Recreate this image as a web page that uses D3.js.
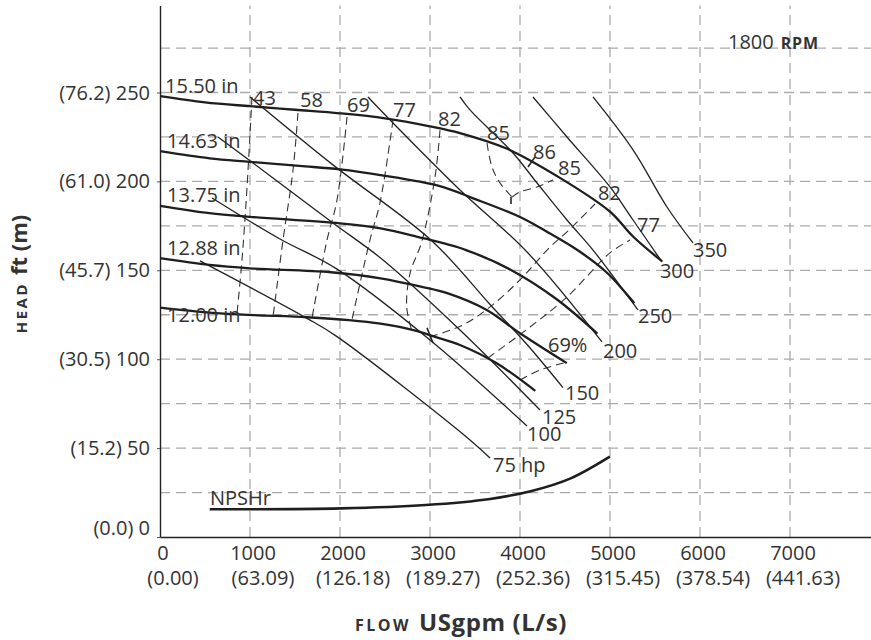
<!DOCTYPE html>
<html><head><meta charset="utf-8">
<script src="https://cdn.jsdelivr.net/npm/d3@7"></script>
<style>
body{margin:0;background:#fff}
svg{display:block}
text{font-family:'Open Sans',sans-serif;fill:#333}
</style>
</head><body>
<svg id="c" width="871" height="640"></svg>
<script>
// ---------- data ----------
const flowTicks = [0,1000,2000,3000,4000,5000,6000,7000];
const flowLps = ["(0.00)","(63.09)","(126.18)","(189.27)","(252.36)","(315.45)","(378.54)","(441.63)"];
const headTicks = [0,50,100,150,200,250];
const headM = ["(0.0)","(15.2)","(30.5)","(45.7)","(61.0)","(76.2)"];
const headGrid = [25,50,75,100,125,150,175,200,225,250,275];
const flowGrid = [1000,2000,3000,4000,5000,6000,7000];

// impeller head curves [gpm, ft]
const imp1550 = [[0,248],[500,244.5],[1000,242.3],[1500,240.3],[2000,238.3],[2500,235.5],[3000,231],[3333,227.2],[3850,218.5],[4444,202],[5000,183],[5256,169],[5580,155]];
const imp1463 = [[0,217],[550,213],[1000,211],[1550,208.7],[2000,206.8],[2450,203.6],[3100,197.5],[3480,190.5],[4000,180],[4300,171.7],[4650,161],[4970,148.5],[5220,134.5],[5270,131.5]];
const imp1375 = [[0,186.3],[550,182.2],[1000,180.1],[2000,176.4],[2450,173.6],[2850,169],[3400,161.4],[3900,150.2],[4400,134],[4860,114.4]];
const imp1288 = [[0,156.8],[550,153],[1000,151.1],[1900,148.9],[2450,145.5],[2900,140.8],[3200,137],[3630,127.7],[4000,114.6],[4520,97.8]];
const imp1200 = [[0,129],[550,126.2],[1000,124.9],[1630,123.6],[2100,122],[2450,120],[2815,116.4],[3050,112.7],[3333,108],[3741,97.7],[4170,82.2]];

// power (hp) lines
const hp75  = [[444,155.3],[1633,123],[1967,112.7],[3444,54.6],[3667,44.4]];
const hp100 = [[578,190.7],[1333,167.6],[1963,150.8],[3000,110.8],[4078,62.4]];
const hp125 = [[644,225],[1033,210.4],[1922,176.6],[2478,155.8],[3333,116.4],[4222,71.4]];
const hp150 = [[1000,247.5],[1922,209.3],[3022,166.5],[3667,130.8],[4078,108.3],[4478,84]];
const hp200 = [[2311,247.5],[2556,234.6],[3333,195.2],[4078,160.3],[4911,109.7]];
const hp250 = [[3333,247.5],[3444,240.2],[3922,216],[4189,199.1],[4522,178.3],[4811,161.4],[5311,127.7]];
const hp300 = [[4144,247.5],[4522,225],[5000,196.9],[5256,178.3],[5578,154.7]];
const hp350 = [[4811,247.5],[5256,217.7],[5633,185.6],[5922,165.4]];

// efficiency contours (%)
const eff43  = [[1022,247.5],[967,196.9],[911,155.8],[856,126]];
const eff58  = [[1533,238.5],[1478,206.4],[1367,167.1],[1256,123.8]];
const eff69  = [[2078,236.3],[1967,189.6],[1856,167.1],[1689,123.2]];
const eff77  = [[2589,234.6],[2444,187.9],[2333,167.1],[2133,122.1]];
const eff82L = [[3111,228.8],[3056,202.5],[2907,165.9],[2778,148.3],[2741,129.4],[2796,116.4]];
const eff85L = [[3633,221.6],[3689,208.1],[3778,199.1],[3911,191.2]];
const eff85R = [[3911,191.2],[4000,194.1],[4189,196.9],[4367,200.8]];
const eff82R = [[3000,112.5],[3367,119.3],[3667,129.4],[4000,144.6],[4333,163.1],[4522,171.6],[4833,187.3]];
const eff77R = [[3644,100.7],[4111,118.1],[4522,135],[5000,159.8],[5222,167.1]];
const eff69R = [[4000,88.3],[4222,93.9],[4522,98.4]];
const bepMarks = [[[2967,117.6],[3033,109.1]],[[4089,208.1],[4167,213.8]],[[3900,191.2],[3900,187.3]]];

// NPSHr
const npshr = [[553,15.6],[2009,16.1],[2954,18],[3667,21.4],[4129,25.9],[4563,33],[4998,45.2]];

// labels [text, gpm, ft]
const impLabels = [["15.50 in",56,249.75],["14.63 in",78,218.8],["13.75 in",78,188.4],["12.88 in",78,158.6],["12.00 in",78,120.9]];
const effLabels = [["43",1033,243],["58",1556,241.9],["69",2078,239.1],["77",2589,236.3],["82",3089,231.2],["85",3633,223.3],["86",4144,212.6],["85",4422,203.6],["82",4867,189.6],["77",5300,171.6],["69%",4311,104.1]];
const hpLabels = [["350",5922,157.5],["300",5555,145.7],["250",5311,120.4],["200",4922,100.7],["150",4500,77.1],["125",4244,63.5],["100",4078,54],["75 hp",3700,36.6]];
const npshLabel = ["NPSHr",556,18];

// ---------- drawing ----------
const svg = d3.select("#c");
const x = d3.scaleLinear().domain([0,7900]).range([160,871]);
const y = d3.scaleLinear().domain([0,299]).range([537,5.4]);
const line = d3.line().x(d=>x(d[0])).y(d=>y(d[1])).curve(d3.curveCatmullRom.alpha(0.5));
const straight = d3.line().x(d=>x(d[0])).y(d=>y(d[1]));

// grid
svg.append("g").selectAll("line").data(headGrid).join("line")
  .attr("x1",x(0)).attr("x2",x(7900)).attr("y1",d=>y(d)).attr("y2",d=>y(d))
  .attr("stroke","#ababab").attr("stroke-width",1.3).attr("stroke-dasharray","10,6");
svg.append("g").selectAll("line").data(flowGrid).join("line")
  .attr("x1",d=>x(d)).attr("x2",d=>x(d)).attr("y1",y(0)).attr("y2",y(299))
  .attr("stroke","#ababab").attr("stroke-width",1.3).attr("stroke-dasharray","10,6");

// axes
svg.append("g").attr("transform",`translate(${x(0)},0)`)
  .call(d3.axisLeft(y).tickValues(headTicks).tickSize(3).tickSizeOuter(0).tickFormat(""));
svg.append("g").attr("transform",`translate(0,${y(0)})`)
  .call(d3.axisBottom(x).tickValues([]).tickSizeOuter(0));
svg.selectAll(".domain").attr("stroke","#222").attr("stroke-width",1.4);
svg.selectAll(".tick line").attr("stroke","#555");

// y tick labels
svg.append("g").selectAll("text").data(headTicks).join("text")
  .attr("x",150).attr("y",(d)=>y(d)+7-(d===0?9:0)).attr("text-anchor","end")
  .attr("font-size",20).text((d,i)=>headM[i]+" "+d);
// x tick labels
svg.append("g").selectAll("text").data(flowTicks).join("text")
  .attr("x",d=>x(d)+3).attr("y",560).attr("text-anchor","middle").attr("font-size",20).text(d=>d);
svg.append("g").selectAll("text").data(flowTicks).join("text")
  .attr("x",d=>x(d)+13).attr("y",585).attr("text-anchor","middle").attr("font-size",20).text((d,i)=>flowLps[i]);

// efficiency (dashed)
[eff43,eff58,eff69,eff77,eff82L,eff85L,eff85R,eff82R,eff77R,eff69R].forEach(s=>{
  svg.append("path").attr("d",line(s)).attr("fill","none").attr("stroke","#333")
    .attr("stroke-width",1.1).attr("stroke-dasharray","8,5");
});
bepMarks.forEach(s=>{
  svg.append("path").attr("d",straight(s)).attr("fill","none").attr("stroke","#222").attr("stroke-width",1.6);
});

// power lines
[hp75,hp100,hp125,hp150,hp200,hp250,hp300,hp350].forEach(s=>{
  svg.append("path").attr("d",line(s)).attr("fill","none").attr("stroke","#222").attr("stroke-width",1.3);
});

// impeller curves
[imp1550,imp1463,imp1375,imp1288,imp1200].forEach(s=>{
  svg.append("path").attr("d",line(s)).attr("fill","none").attr("stroke","#1e1e1e").attr("stroke-width",2.3);
});

// NPSHr
svg.append("path").attr("d",line(npshr)).attr("fill","none").attr("stroke","#1e1e1e").attr("stroke-width",2.6);

// labels
const lab = svg.append("g").attr("font-size",20);
[...impLabels,...effLabels,...hpLabels,npshLabel].forEach(l=>{
  lab.append("text").attr("x",x(l[1])).attr("y",y(l[2])).text(l[0]);
});

// rpm
const rpm = svg.append("text").attr("x",728).attr("y",49).attr("font-size",20);
rpm.append("tspan").text("1800");
rpm.append("tspan").attr("dx",7).attr("font-size",16).attr("font-weight","bold").attr("letter-spacing",0.8).text("RPM");

// axis titles
const xt = svg.append("text").attr("x",461).attr("y",631).attr("text-anchor","middle").attr("fill","#222");
xt.append("tspan").attr("font-size",16).attr("font-weight","bold").attr("letter-spacing",2.5).text("FLOW");
xt.append("tspan").attr("dx",8).attr("font-size",24).attr("font-weight","bold").attr("letter-spacing",0.6).text("USgpm (L/s)");

const yt = svg.append("text").attr("transform","translate(27,274) rotate(-90)").attr("text-anchor","middle").attr("fill","#222");
yt.append("tspan").attr("font-size",15).attr("font-weight","bold").attr("letter-spacing",2.5).text("HEAD");
yt.append("tspan").attr("dx",7).attr("font-size",22).attr("font-weight","bold").text("ft (m)");
</script>
</body></html>
